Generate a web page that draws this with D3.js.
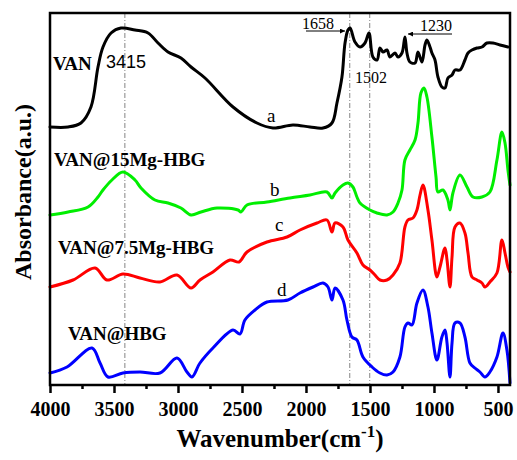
<!DOCTYPE html>
<meta charset="utf-8">
<style>
body { margin: 0; background: #fff; }
text { font-family: "Liberation Serif", "Times New Roman", serif; }
.frame { fill: none; stroke: #000; stroke-width: 2.5px; }
.spectrum { fill: none; stroke-width: 3px; stroke-linejoin: round; stroke-linecap: round; }
.guide { stroke: #666; stroke-width: 0.8px; stroke-dasharray: 5,2,1,2; }
</style>
<body>
<svg width="517" height="460"></svg>
<script src="https://d3js.org/d3.v7.min.js"></script>
<script>

// wavenumbers (cm-1) and absorbance (a.u., stacked traces)
var waveA = [4000,3859,3758,3680,3625,3586,3523,3445,3336,3234,3156,3078,2977,2898,2789,2570,2383,2258,2102,1969,1867,1797,1758,1719,1695,1672,1656,1617,1578,1539,1508,1477,1445,1422,1398,1367,1344,1305,1281,1250,1227,1211,1188,1148,1125,1094,1070,1055,1031,1016,992,969,938,914,891,859,836,797,758,734,703,664,625,586,539,484,422];
var absA  = [2.58,2.58,2.62,2.78,3.18,3.38,3.52,3.57,3.55,3.52,3.42,3.33,3.27,3.18,3.07,2.78,2.62,2.57,2.60,2.58,2.57,2.62,2.82,3.08,3.42,3.55,3.57,3.43,3.38,3.42,3.52,3.28,3.25,3.37,3.33,3.35,3.28,3.32,3.28,3.32,3.48,3.32,3.23,3.22,3.33,3.23,3.40,3.45,3.38,3.32,3.25,3.08,2.98,2.97,3.07,3.10,3.15,3.15,3.25,3.32,3.35,3.37,3.38,3.42,3.42,3.40,3.38];

var waveB = [4000,3859,3703,3625,3586,3516,3430,3336,3289,3180,3078,2977,2898,2820,2695,2531,2508,2461,2305,2125,1969,1836,1797,1773,1711,1672,1633,1602,1578,1500,1445,1367,1320,1281,1250,1227,1188,1148,1125,1102,1078,1055,1016,984,969,930,891,875,852,797,742,695,625,563,508,469,445,422,406];
var absB  = [1.70,1.73,1.78,1.88,1.95,2.05,2.13,2.05,1.97,1.85,1.82,1.77,1.70,1.73,1.77,1.75,1.73,1.80,1.83,1.87,1.90,1.93,1.87,1.92,2.00,2.02,1.98,1.88,1.82,1.75,1.72,1.70,1.73,1.82,1.95,2.25,2.35,2.45,2.62,2.92,2.97,2.88,2.48,2.08,1.93,1.95,1.85,1.75,1.92,2.10,1.98,1.88,1.88,1.93,2.25,2.53,2.42,2.15,2.00];

var waveC = [4000,3820,3648,3555,3430,3297,3141,3008,2898,2828,2727,2594,2523,2461,2305,2148,2047,1914,1836,1797,1773,1711,1672,1602,1555,1500,1461,1422,1367,1320,1266,1227,1203,1164,1133,1109,1086,1047,1016,977,953,914,898,875,859,836,797,758,734,703,664,625,602,563,508,469,445,422,406];
var absC  = [0.98,1.05,1.17,1.05,1.11,1.07,1.03,1.10,0.97,1.05,1.13,1.25,1.23,1.33,1.43,1.48,1.55,1.62,1.65,1.53,1.62,1.58,1.45,1.32,1.20,1.15,1.10,1.05,1.05,1.10,1.22,1.58,1.65,1.67,1.75,1.90,2.00,1.75,1.45,1.08,1.18,1.37,1.25,0.98,1.28,1.58,1.62,1.52,1.32,1.08,1.05,1.02,0.98,1.03,1.12,1.45,1.32,1.18,1.13];

var waveD = [4000,3867,3672,3609,3547,3430,3297,3141,3008,2930,2891,2828,2727,2570,2516,2477,2398,2305,2141,2047,1945,1867,1828,1797,1773,1711,1680,1641,1602,1555,1484,1422,1367,1320,1266,1227,1203,1172,1133,1086,1047,1016,977,938,914,898,875,859,836,797,758,719,680,641,602,563,508,461,430,406];
var absD  = [0.12,0.18,0.37,0.22,0.08,0.12,0.13,0.12,0.27,0.13,0.08,0.22,0.37,0.55,0.51,0.65,0.75,0.83,0.85,0.92,0.98,1.02,0.98,0.85,0.97,0.85,0.65,0.48,0.45,0.28,0.18,0.12,0.10,0.13,0.28,0.58,0.62,0.60,0.82,0.95,0.78,0.52,0.25,0.48,0.55,0.42,0.08,0.42,0.62,0.62,0.48,0.22,0.17,0.13,0.08,0.13,0.28,0.52,0.35,0.02];

var seriesColors = ["#000000", "#00ee00", "#ff0000", "#0000ff"];
var peakLines = [3415, 1658, 1502];
var majorTicks = [4000,3500,3000,2500,2000,1500,1000,500];
var minorTicks = [3750,3250,2750,2250,1750,1250,750];

var svg = d3.select("svg"),
    margin = {top: 13, right: 7, bottom: 75, left: 50},
    width = 517 - margin.left - margin.right,
    height = 460 - margin.top - margin.bottom;

var x = d3.scaleLinear().domain([4000, 406]).range([margin.left, margin.left + width]);
var y = d3.scaleLinear().domain([0, 3.72]).range([margin.top + height, margin.top]);

var series = [
  {w: waveA, a: absA},
  {w: waveB, a: absB},
  {w: waveC, a: absC},
  {w: waveD, a: absD}
];

// guide lines
svg.append("g").selectAll("line")
  .data(peakLines)
  .enter().append("line")
    .attr("class", "guide")
    .attr("x1", function(d) { return x(d); })
    .attr("x2", function(d) { return x(d); })
    .attr("y1", margin.top)
    .attr("y2", margin.top + height);

var line = d3.line()
    .x(function(d) { return x(d[0]); })
    .y(function(d) { return y(d[1]); })
    .curve(d3.curveCatmullRom.alpha(0.5));

svg.append("g").selectAll("path")
  .data(series)
  .enter().append("path")
    .attr("class", "spectrum")
    .style("stroke", function(d, i) { return seriesColors[i]; })
    .attr("d", function(d) { return line(d3.zip(d.w, d.a)); });

// frame
svg.append("rect")
    .attr("class", "frame")
    .attr("x", margin.left)
    .attr("y", margin.top)
    .attr("width", width)
    .attr("height", height);

// bottom axis
var axisG = svg.append("g")
    .attr("transform", "translate(0," + (margin.top + height) + ")");

axisG.append("g")
    .call(d3.axisBottom(x).tickValues(minorTicks).tickSize(4).tickFormat(""))
    .call(function(g) { g.select(".domain").remove(); })
    .selectAll("line").attr("stroke-width", 2.5);

axisG.append("g")
    .call(d3.axisBottom(x).tickValues(majorTicks).tickSize(8).tickPadding(9).tickFormat(d3.format("d")))
    .call(function(g) { g.select(".domain").remove(); })
    .call(function(g) {
      g.selectAll("line").attr("stroke-width", 2.5);
      g.selectAll("text")
        .style("font-family", "Liberation Serif")
        .style("font-size", "20px")
        .style("font-weight", "bold")
        .attr("fill", "#000");
    });

// axis titles
var xt = svg.append("text")
    .attr("x", 280)
    .attr("y", 447)
    .attr("text-anchor", "middle")
    .style("font-size", "25px")
    .style("font-weight", "bold");
xt.append("tspan").text("Wavenumber(cm");
xt.append("tspan").attr("dy", -10).style("font-size", "17px").text("-1");
xt.append("tspan").attr("dy", 10).text(")");

svg.append("text")
    .attr("transform", "translate(31,192) rotate(-90)")
    .attr("text-anchor", "middle")
    .style("font-size", "24px")
    .style("font-weight", "bold")
    .text("Absorbance(a.u.)");

// sample names
var names = [
  {t: "VAN", x: 53, y: 70},
  {t: "VAN@15Mg-HBG", x: 54, y: 166},
  {t: "VAN@7.5Mg-HBG", x: 58, y: 254},
  {t: "VAN@HBG", x: 68, y: 340}
];
svg.append("g").selectAll("text")
  .data(names)
  .enter().append("text")
    .attr("x", function(d) { return d.x; })
    .attr("y", function(d) { return d.y; })
    .style("font-size", "19px")
    .style("font-weight", "bold")
    .text(function(d) { return d.t; });

var letters = [
  {t: "a", x: 267, y: 122},
  {t: "b", x: 270, y: 196},
  {t: "c", x: 275, y: 231},
  {t: "d", x: 277, y: 296}
];
svg.append("g").selectAll("text")
  .data(letters)
  .enter().append("text")
    .attr("x", function(d) { return d.x; })
    .attr("y", function(d) { return d.y; })
    .style("font-size", "19px")
    .text(function(d) { return d.t; });

// peak annotations
svg.append("text")
    .attr("x", 106).attr("y", 68)
    .style("font-family", "Liberation Sans")
    .style("font-size", "18px")
    .text("3415");

svg.append("defs").append("marker")
    .attr("id", "arrow")
    .attr("viewBox", "0 0 10 10")
    .attr("refX", 10).attr("refY", 5)
    .attr("markerWidth", 7).attr("markerHeight", 5)
    .attr("orient", "auto")
  .append("path")
    .attr("d", "M0,0L10,5L0,10z")
    .attr("fill", "#000");

svg.append("text").attr("x", 302).attr("y", 29).style("font-size", "16px").text("1658");
svg.append("line")
    .attr("x1", 306).attr("y1", 31).attr("x2", 345).attr("y2", 31)
    .attr("stroke", "#000").attr("stroke-width", 1)
    .attr("marker-end", "url(#arrow)");

svg.append("text").attr("x", 355).attr("y", 83).style("font-size", "16px").text("1502");

svg.append("text").attr("x", 420).attr("y", 31).style("font-size", "16px").text("1230");
svg.append("line")
    .attr("x1", 452).attr("y1", 34).attr("x2", 408).attr("y2", 34)
    .attr("stroke", "#000").attr("stroke-width", 1)
    .attr("marker-end", "url(#arrow)");

</script>
</body>
